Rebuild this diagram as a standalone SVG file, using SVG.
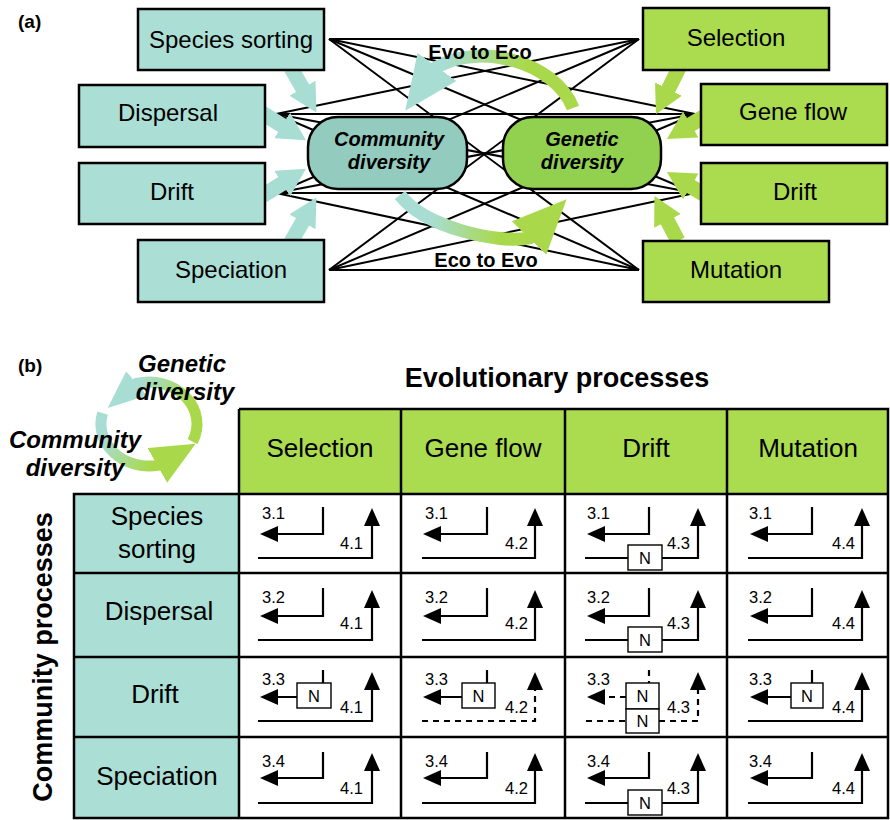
<svg xmlns="http://www.w3.org/2000/svg" width="890" height="820" viewBox="0 0 890 820">
<defs>
<style>
.tbox{fill:#abdfd6;stroke:#000;stroke-width:2.5}
.gbox{fill:#abdb4f;stroke:#000;stroke-width:2.5}
.t{font-family:"Liberation Sans",Arial,sans-serif;fill:#000}
.lbl{font-size:24px;text-anchor:middle}
.hdr{font-size:26px;text-anchor:middle}
.bi{font-weight:bold;font-style:italic;text-anchor:middle}
.b{font-weight:bold}
.num{font-size:16.5px}
.nt{font-size:16.5px;text-anchor:middle}
.link{stroke:#000;stroke-width:2;fill:none}
.ln{stroke:#000;stroke-width:2.2;fill:none}
.dash{stroke-dasharray:6 5}
.nb{fill:#fff;stroke:#000;stroke-width:1.4}
.grid{stroke:#000;stroke-width:2.5;fill:none}
.tsh{stroke:#a8ddd4;stroke-width:15;fill:none}
.gsh{stroke:#a9d94b;stroke-width:15;fill:none}
</style>
<marker id="ah" markerUnits="userSpaceOnUse" viewBox="0 0 18 16" markerWidth="18" markerHeight="16" refX="15" refY="8" orient="auto"><path d="M0,0 L18,8 L0,16 z" fill="#000"/></marker>
<marker id="th" markerUnits="userSpaceOnUse" viewBox="0 0 28 30" markerWidth="28" markerHeight="30" refX="1" refY="15" orient="auto"><path d="M0,0 L28,15 L0,30 z" fill="#a8ddd4"/></marker>
<marker id="gh" markerUnits="userSpaceOnUse" viewBox="0 0 28 30" markerWidth="28" markerHeight="30" refX="1" refY="15" orient="auto"><path d="M0,0 L28,15 L0,30 z" fill="#a9d94b"/></marker>
<marker id="tbig" markerUnits="userSpaceOnUse" viewBox="0 0 54 48" markerWidth="54" markerHeight="48" refX="1" refY="24" orient="auto"><path d="M0,0 L54,24 L0,48 z" fill="#a8ddd4"/></marker>
<marker id="gbig" markerUnits="userSpaceOnUse" viewBox="0 0 54 48" markerWidth="54" markerHeight="48" refX="1" refY="24" orient="auto"><path d="M0,0 L54,24 L0,48 z" fill="#a9d94b"/></marker>
<marker id="tcyc" markerUnits="userSpaceOnUse" viewBox="0 0 38 32" markerWidth="38" markerHeight="32" refX="1" refY="16" orient="auto"><path d="M0,0 L38,16 L0,32 z" fill="#a8ddd4"/></marker>
<marker id="gcyc" markerUnits="userSpaceOnUse" viewBox="0 0 44 40" markerWidth="44" markerHeight="40" refX="1" refY="20" orient="auto"><path d="M0,0 L44,20 L0,40 z" fill="#a9d94b"/></marker>
<linearGradient id="gEvoEco" gradientUnits="userSpaceOnUse" x1="445" y1="0" x2="525" y2="0"><stop offset="0" stop-color="#a8ddd4"/><stop offset="1" stop-color="#a9d94b"/></linearGradient>
<linearGradient id="gEcoEvo" gradientUnits="userSpaceOnUse" x1="430" y1="0" x2="500" y2="0"><stop offset="0" stop-color="#a8ddd4"/><stop offset="1" stop-color="#a9d94b"/></linearGradient>
<linearGradient id="gC1" gradientUnits="userSpaceOnUse" x1="140" y1="380" x2="190" y2="405"><stop offset="0" stop-color="#a8ddd4"/><stop offset="1" stop-color="#a9d94b"/></linearGradient>
<linearGradient id="gC2" gradientUnits="userSpaceOnUse" x1="108" y1="435" x2="150" y2="468"><stop offset="0" stop-color="#a8ddd4"/><stop offset="1" stop-color="#a9d94b"/></linearGradient>
</defs>
<rect width="890" height="820" fill="#fff"/>

<text class="t b" x="18" y="28" font-size="19">(a)</text>

<g id="connectors">
<line class="link" x1="329" y1="39" x2="639" y2="39"/>
<line class="link" x1="329" y1="39" x2="695" y2="114"/>
<line class="link" x1="329" y1="39" x2="695" y2="193"/>
<line class="link" x1="329" y1="39" x2="639" y2="270"/>
<line class="link" x1="276" y1="114" x2="639" y2="39"/>
<line class="link" x1="276" y1="114" x2="695" y2="114"/>
<line class="link" x1="276" y1="114" x2="695" y2="193"/>
<line class="link" x1="276" y1="114" x2="639" y2="270"/>
<line class="link" x1="276" y1="193" x2="639" y2="39"/>
<line class="link" x1="276" y1="193" x2="695" y2="114"/>
<line class="link" x1="276" y1="193" x2="695" y2="193"/>
<line class="link" x1="276" y1="193" x2="639" y2="270"/>
<line class="link" x1="329" y1="270" x2="639" y2="39"/>
<line class="link" x1="329" y1="270" x2="695" y2="114"/>
<line class="link" x1="329" y1="270" x2="695" y2="193"/>
<line class="link" x1="329" y1="270" x2="639" y2="270"/>
</g>

<g id="node-community-diversity">
<rect x="308" y="117" width="159" height="72" rx="30" fill="#93cbbf" stroke="#000" stroke-width="2.5"/>
<text class="t bi" x="389" y="146" font-size="20">Community</text>
<text class="t bi" x="389" y="169" font-size="20">diversity</text>
</g>
<g id="node-genetic-diversity">
<rect x="503" y="117" width="158" height="72" rx="30" fill="#92d050" stroke="#000" stroke-width="2.5"/>
<text class="t bi" x="582" y="146" font-size="20">Genetic</text>
<text class="t bi" x="582" y="169" font-size="20">diversity</text>
</g>

<g id="process-arrows">
<line class="tsh" x1="291" y1="68" x2="303" y2="89" marker-end="url(#th)"/>
<line class="tsh" x1="262" y1="113" x2="283" y2="126" marker-end="url(#th)"/>
<line class="tsh" x1="262" y1="196" x2="283" y2="183" marker-end="url(#th)"/>
<line class="tsh" x1="291" y1="242" x2="303" y2="221" marker-end="url(#th)"/>
<line class="gsh" x1="679" y1="68" x2="668" y2="90" marker-end="url(#gh)"/>
<line class="gsh" x1="710" y1="113" x2="690" y2="125" marker-end="url(#gh)"/>
<line class="gsh" x1="710" y1="198" x2="690" y2="186" marker-end="url(#gh)"/>
<line class="gsh" x1="678" y1="241" x2="667" y2="220" marker-end="url(#gh)"/>
<path d="M573,108 C555,62 480,42 437,67 l-0.59,0.81" stroke="url(#gEvoEco)" stroke-width="13" fill="none" marker-end="url(#tbig)"/>
<path d="M400,195 C425,228 500,244 529,238 l0.7,-0.72" stroke="url(#gEcoEvo)" stroke-width="13" fill="none" marker-end="url(#gbig)"/>
<text class="t b" x="480" y="59" font-size="20" text-anchor="middle">Evo to Eco</text>
<text class="t b" x="486" y="267" font-size="20" text-anchor="middle">Eco to Evo</text>
</g>

<g id="node-species-sorting"><rect class="tbox" x="138" y="9" width="186" height="61"/><text class="t lbl" x="231" y="48">Species sorting</text></g>
<g id="node-dispersal"><rect class="tbox" x="79" y="85" width="186" height="62"/><text class="t lbl" x="168" y="121">Dispersal</text></g>
<g id="node-drift-community"><rect class="tbox" x="79" y="163" width="186" height="61"/><text class="t lbl" x="172" y="200">Drift</text></g>
<g id="node-speciation"><rect class="tbox" x="138" y="240" width="186" height="62"/><text class="t lbl" x="231" y="278">Speciation</text></g>
<g id="node-selection"><rect class="gbox" x="643" y="8" width="186" height="62"/><text class="t lbl" x="736" y="46">Selection</text></g>
<g id="node-gene-flow"><rect class="gbox" x="701" y="84" width="186" height="61"/><text class="t lbl" x="793" y="120">Gene flow</text></g>
<g id="node-drift-genetic"><rect class="gbox" x="701" y="163" width="186" height="61"/><text class="t lbl" x="795" y="200">Drift</text></g>
<g id="node-mutation"><rect class="gbox" x="643" y="241" width="186" height="61"/><text class="t lbl" x="736" y="278">Mutation</text></g>

<text class="t b" x="18" y="372" font-size="19">(b)</text>

<g id="cycle">
<path d="M192.5,441.7 A48 42 0 0 0 136.6,383.4 l-0.76,0.65" stroke="url(#gC1)" stroke-width="11" fill="none" marker-end="url(#tcyc)"/>
<path d="M102.6,413.1 A48 42 0 0 0 157.3,465.4 l0.87,-0.49" stroke="url(#gC2)" stroke-width="11" fill="none" marker-end="url(#gcyc)"/>
<text class="t bi" x="182" y="372" font-size="24">Genetic</text>
<text class="t bi" x="185" y="400" font-size="24">diversity</text>
<text class="t bi" x="75" y="448" font-size="24">Community</text>
<text class="t bi" x="75" y="476" font-size="24">diversity</text>
</g>

<text class="t b" x="557" y="387" font-size="27" text-anchor="middle">Evolutionary processes</text>
<text class="t b" font-size="27" text-anchor="middle" transform="translate(52,657) rotate(-90)">Community processes</text>

<g id="table">
<rect x="239" y="409" width="649" height="85" fill="#abdb4f"/>
<rect x="74" y="494" width="165" height="324" fill="#abdfd6"/>
<path class="grid" d="M239,409 H888 V818 H74 V494 H888 M74,573 H888 M74,657 H888 M74,737 H888 M239,409 V818 M401,409 V818 M565,409 V818 M727,409 V818"/>
<text class="t hdr" x="320" y="457">Selection</text>
<text class="t hdr" x="483" y="457">Gene flow</text>
<text class="t hdr" x="646" y="457">Drift</text>
<text class="t hdr" x="808" y="457">Mutation</text>
<text class="t hdr" x="157" y="525">Species</text>
<text class="t hdr" x="157" y="558">sorting</text>
<text class="t hdr" x="159" y="620">Dispersal</text>
<text class="t hdr" x="155" y="703">Drift</text>
<text class="t hdr" x="157" y="785">Speciation</text>
</g>

<g id="cells">
<!-- row 1 -->
<path class="ln" d="M323,507 V534 H263" marker-end="url(#ah)"/><path class="ln" d="M258,558 H372 V511" marker-end="url(#ah)"/>
<text class="t num" x="262" y="519">3.1</text><text class="t num" x="340" y="549">4.1</text>
<path class="ln" d="M487,507 V534 H426" marker-end="url(#ah)"/><path class="ln" d="M422,558 H535 V511" marker-end="url(#ah)"/>
<text class="t num" x="425" y="519">3.1</text><text class="t num" x="505" y="549">4.2</text>
<path class="ln" d="M649,507 V534 H590" marker-end="url(#ah)"/><path class="ln" d="M585,558 H698 V511" marker-end="url(#ah)"/>
<rect class="nb" x="628" y="545" width="34" height="25"/><text class="t nt" x="645" y="564">N</text>
<text class="t num" x="587" y="519">3.1</text><text class="t num" x="667" y="549">4.3</text>
<path class="ln" d="M812,507 V534 H753" marker-end="url(#ah)"/><path class="ln" d="M748,558 H862 V511" marker-end="url(#ah)"/>
<text class="t num" x="749" y="519">3.1</text><text class="t num" x="832" y="549">4.4</text>
<!-- row 2 -->
<path class="ln" d="M323,588 V616 H263" marker-end="url(#ah)"/><path class="ln" d="M258,640 H372 V593" marker-end="url(#ah)"/>
<text class="t num" x="262" y="603">3.2</text><text class="t num" x="340" y="629">4.1</text>
<path class="ln" d="M487,588 V616 H426" marker-end="url(#ah)"/><path class="ln" d="M422,640 H535 V593" marker-end="url(#ah)"/>
<text class="t num" x="425" y="603">3.2</text><text class="t num" x="505" y="629">4.2</text>
<path class="ln" d="M649,588 V616 H590" marker-end="url(#ah)"/><path class="ln" d="M585,640 H698 V593" marker-end="url(#ah)"/>
<rect class="nb" x="628" y="627" width="34" height="25"/><text class="t nt" x="645" y="646">N</text>
<text class="t num" x="587" y="603">3.2</text><text class="t num" x="667" y="629">4.3</text>
<path class="ln" d="M812,588 V616 H753" marker-end="url(#ah)"/><path class="ln" d="M748,640 H862 V593" marker-end="url(#ah)"/>
<text class="t num" x="749" y="603">3.2</text><text class="t num" x="832" y="629">4.4</text>
<!-- row 3 -->
<path class="ln" d="M323,670 V683"/><rect class="nb" x="297" y="683" width="34" height="25"/><text class="t nt" x="314" y="702">N</text>
<path class="ln" d="M297,697 H263" marker-end="url(#ah)"/><path class="ln" d="M258,721 H372 V675" marker-end="url(#ah)"/>
<text class="t num" x="262" y="685">3.3</text><text class="t num" x="340" y="713">4.1</text>
<path class="ln" d="M487,670 V683"/><rect class="nb" x="462" y="683" width="33" height="25"/><text class="t nt" x="478.5" y="702">N</text>
<path class="ln" d="M462,697 H426" marker-end="url(#ah)"/><path class="ln dash" d="M422,721 H535 V675" marker-end="url(#ah)"/>
<text class="t num" x="425" y="685">3.3</text><text class="t num" x="505" y="713">4.2</text>
<path class="ln dash" d="M649,670 V683"/><path class="ln dash" d="M626,697 H590" marker-end="url(#ah)"/>
<path class="ln dash" d="M586,721 H626"/><path class="ln dash" d="M659,721 H698 V675" marker-end="url(#ah)"/>
<rect class="nb" x="626" y="683" width="33" height="26"/><text class="t nt" x="642.5" y="702">N</text>
<rect class="nb" x="626" y="709" width="33" height="24"/><text class="t nt" x="642.5" y="727">N</text>
<text class="t num" x="587" y="685">3.3</text><text class="t num" x="667" y="713">4.3</text>
<path class="ln" d="M812,670 V683"/><rect class="nb" x="791" y="683" width="32" height="25"/><text class="t nt" x="807" y="702">N</text>
<path class="ln" d="M791,697 H753" marker-end="url(#ah)"/><path class="ln" d="M748,721 H862 V675" marker-end="url(#ah)"/>
<text class="t num" x="749" y="685">3.3</text><text class="t num" x="832" y="713">4.4</text>
<!-- row 4 -->
<path class="ln" d="M323,752 V778 H263" marker-end="url(#ah)"/><path class="ln" d="M258,803 H372 V756" marker-end="url(#ah)"/>
<text class="t num" x="262" y="767">3.4</text><text class="t num" x="340" y="794">4.1</text>
<path class="ln" d="M487,752 V778 H426" marker-end="url(#ah)"/><path class="ln" d="M422,803 H535 V756" marker-end="url(#ah)"/>
<text class="t num" x="425" y="767">3.4</text><text class="t num" x="505" y="794">4.2</text>
<path class="ln" d="M649,752 V778 H590" marker-end="url(#ah)"/><path class="ln" d="M585,803 H698 V756" marker-end="url(#ah)"/>
<rect class="nb" x="628" y="790" width="34" height="25"/><text class="t nt" x="645" y="809">N</text>
<text class="t num" x="587" y="767">3.4</text><text class="t num" x="667" y="794">4.3</text>
<path class="ln" d="M812,752 V778 H753" marker-end="url(#ah)"/><path class="ln" d="M748,803 H862 V756" marker-end="url(#ah)"/>
<text class="t num" x="749" y="767">3.4</text><text class="t num" x="832" y="794">4.4</text>
</g>
</svg>
